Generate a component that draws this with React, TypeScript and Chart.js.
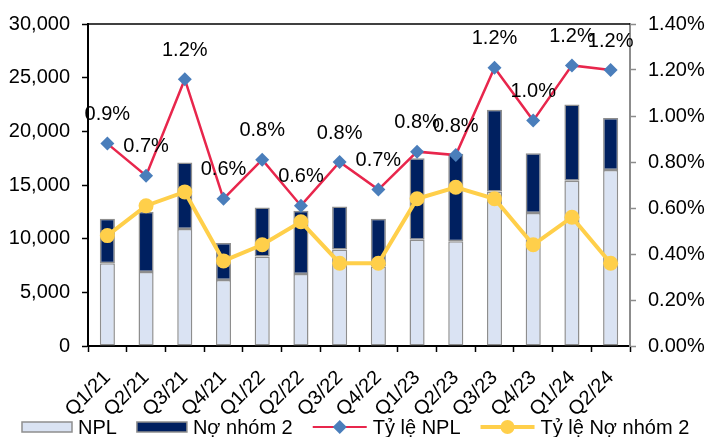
import React, { useEffect, useRef } from "react";
import { Chart, registerables } from "chart.js";

Chart.register(...registerables);

const categories = ["Q1/21", "Q2/21", "Q3/21", "Q4/21", "Q1/22", "Q2/22", "Q3/22", "Q4/22", "Q1/23", "Q2/23", "Q3/23", "Q4/23", "Q1/24", "Q2/24"];
const nplValues = [7700, 6900, 10900, 6150, 8350, 6700, 9000, 7400, 9900, 9750, 14400, 12400, 15400, 16400];
const nhom2Values = [4150, 5600, 6200, 3450, 4550, 5900, 4000, 4450, 7600, 8150, 7600, 5550, 7100, 4850];
const nplRatio = [0.88, 0.74, 1.16, 0.64, 0.81, 0.61, 0.8, 0.68, 0.845, 0.83, 1.21, 0.98, 1.22, 1.2];
const nhom2Ratio = [0.48, 0.61, 0.67, 0.37, 0.44, 0.54, 0.36, 0.36, 0.64, 0.69, 0.64, 0.44, 0.56, 0.36];
const legendLabels = ["NPL", "Nợ nhóm 2", "Tỷ lệ NPL", "Tỷ lệ Nợ nhóm 2"];

const FONT = '"Liberation Sans", Arial, sans-serif';
const LIGHT = "#DAE3F3";
const NAVY = "#002060";
const RED = "#E8264C";
const DIAMOND = "#4A7EBB";
const YELLOW = "#FFCF4A";
const BAR_BORDER = "#8E8E8E";

const overlayPlugin = {
  id: "overlay",
  afterDatasetsDraw(chart: any) {
    const ctx = chart.ctx;
    const { left, right, top } = chart.chartArea;
    ctx.save();
    ctx.strokeStyle = "#000";
    ctx.lineWidth = 1.5;
    ctx.beginPath();
    ctx.moveTo(left, top);
    ctx.lineTo(right, top);
    ctx.stroke();

    // data labels for NPL ratio
    const meta = chart.getDatasetMeta(2);
    ctx.font = `20px ${FONT}`;
    ctx.fillStyle = "#000";
    ctx.textAlign = "center";
    ctx.textBaseline = "middle";
    meta.data.forEach((pt: any, i: number) => {
      ctx.fillText(nplRatio[i].toFixed(1) + "%", pt.x, pt.y - 29);
    });

    // legend
    const ly = 427;
    let x = 22;
    ctx.textAlign = "left";
    ctx.textBaseline = "middle";
    const items = [
      { kind: "box", fill: LIGHT },
      { kind: "box", fill: NAVY },
      { kind: "line", color: RED, width: 2, marker: "diamond" },
      { kind: "line", color: YELLOW, width: 4, marker: "circle" },
    ];
    items.forEach((it: any, i: number) => {
      if (it.kind === "box") {
        ctx.fillStyle = it.fill;
        ctx.fillRect(x, ly - 5, 50, 10);
        ctx.strokeStyle = BAR_BORDER;
        ctx.lineWidth = 1.5;
        ctx.strokeRect(x, ly - 5, 50, 10);
      } else {
        ctx.strokeStyle = it.color;
        ctx.lineWidth = it.width;
        ctx.beginPath();
        ctx.moveTo(x, ly);
        ctx.lineTo(x + 54, ly);
        ctx.stroke();
        const cx = x + 27;
        if (it.marker === "diamond") {
          ctx.fillStyle = DIAMOND;
          ctx.beginPath();
          ctx.moveTo(cx, ly - 7);
          ctx.lineTo(cx + 7, ly);
          ctx.lineTo(cx, ly + 7);
          ctx.lineTo(cx - 7, ly);
          ctx.closePath();
          ctx.fill();
        } else {
          ctx.fillStyle = YELLOW;
          ctx.beginPath();
          ctx.arc(cx, ly, 7, 0, Math.PI * 2);
          ctx.fill();
        }
      }
      const w = it.kind === "box" ? 50 : 54;
      ctx.fillStyle = "#000";
      ctx.fillText(legendLabels[i], x + w + 6, ly + 1);
      x += w + 6 + ctx.measureText(legendLabels[i]).width + 20;
    });
    ctx.restore();
  },
};

export default function App() {
  const ref = useRef<HTMLCanvasElement | null>(null);
  useEffect(() => {
    document.body.style.margin = "0";
    const canvas = ref.current!;
    Chart.defaults.font.family = FONT;
    Chart.defaults.font.size = 20;
    Chart.defaults.color = "#000";
    const chart = new Chart(canvas, {
      type: "bar",
      data: {
        labels: categories,
        datasets: [
          {
            type: "bar",
            label: legendLabels[0],
            data: nplValues,
            backgroundColor: LIGHT,
            borderColor: BAR_BORDER,
            borderWidth: 1.5,
            borderSkipped: false,
            yAxisID: "y",
            stack: "s",
            order: 2,
            barPercentage: 0.39,
            categoryPercentage: 1,
          },
          {
            type: "bar",
            label: legendLabels[1],
            data: nhom2Values,
            backgroundColor: NAVY,
            borderColor: BAR_BORDER,
            borderWidth: 1.5,
            borderSkipped: false,
            yAxisID: "y",
            stack: "s",
            order: 2,
            barPercentage: 0.39,
            categoryPercentage: 1,
          },
          {
            type: "line",
            label: legendLabels[2],
            data: nplRatio,
            borderColor: RED,
            borderWidth: 2.5,
            pointStyle: "rectRot",
            pointRadius: 7,
            pointBackgroundColor: DIAMOND,
            pointBorderColor: DIAMOND,
            pointBorderWidth: 0,
            yAxisID: "y1",
            order: 0,
            tension: 0,
          },
          {
            type: "line",
            label: legendLabels[3],
            data: nhom2Ratio,
            borderColor: YELLOW,
            borderWidth: 4,
            pointStyle: "circle",
            pointRadius: 7.5,
            pointBackgroundColor: YELLOW,
            pointBorderColor: YELLOW,
            pointBorderWidth: 0,
            yAxisID: "y1",
            order: 1,
            tension: 0,
          },
        ],
      },
      options: {
        animation: false,
        responsive: false,
        maintainAspectRatio: false,
        layout: { padding: { top: 20, left: 0, right: 0, bottom: 0 } },
        plugins: {
          legend: { display: false },
          tooltip: { enabled: false },
        },
        scales: {
          x: {
            stacked: true,
            offset: true,
            grid: {
              offset: true,
              drawOnChartArea: false,
              drawTicks: true,
              tickLength: 6,
              tickColor: "#000",
              tickWidth: 1.5,
            },
            border: { color: "#000", width: 2 },
            ticks: {
              minRotation: 45,
              maxRotation: 45,
              padding: 14,
              font: { size: 20, family: FONT },
              color: "#000",
              autoSkip: false,
            },
            afterFit: (s: any) => {
              s.height = 91;
            },
          },
          y: {
            stacked: true,
            position: "left",
            min: 0,
            max: 30000,
            grid: {
              drawOnChartArea: false,
              drawTicks: true,
              tickLength: 6,
              tickColor: "#000",
              tickWidth: 1.5,
            },
            border: { color: "#000", width: 2 },
            ticks: {
              stepSize: 5000,
              padding: 12,
              font: { size: 20, family: FONT },
              color: "#000",
              callback: (v: any) => Number(v).toLocaleString("en-US"),
            },
            afterFit: (s: any) => {
              s.width = 88;
            },
          },
          y1: {
            position: "right",
            min: 0,
            max: 1.4,
            grid: {
              drawOnChartArea: false,
              drawTicks: true,
              tickLength: 6,
              tickColor: "#8C8C8C",
              tickWidth: 1.5,
            },
            border: { color: "#8C8C8C", width: 2 },
            ticks: {
              stepSize: 0.2,
              padding: 12,
              font: { size: 20, family: FONT },
              color: "#000",
              callback: (v: any) => Number(v).toFixed(2) + "%",
            },
            afterFit: (s: any) => {
              s.width = 79;
            },
          },
        },
      },
      plugins: [overlayPlugin],
    } as any);
    return () => chart.destroy();
  }, []);
  return (
    <div style={{ width: 709, height: 437 }}>
      <canvas ref={ref} width={709} height={437} style={{ display: "block", width: 709, height: 437 }} />
    </div>
  );
}
